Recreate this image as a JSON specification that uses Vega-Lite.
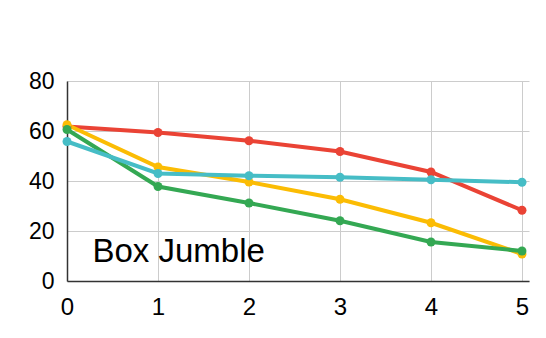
{
  "$schema": "https://vega.github.io/schema/vega-lite/v6.json",
  "autosize": "none",
  "width": 462,
  "height": 200,
  "padding": {"left": 67, "top": 81, "right": 17, "bottom": 57},
  "background": "white",
  "config": {
    "font": "Liberation Sans",
    "view": {"stroke": null}
  },
  "data": {
    "values": [
      {"s": "A", "x": 0, "y": 61.8},
      {"s": "A", "x": 1, "y": 59.4},
      {"s": "A", "x": 2, "y": 56.1},
      {"s": "A", "x": 3, "y": 51.8},
      {"s": "A", "x": 4, "y": 43.6},
      {"s": "A", "x": 5, "y": 28.3},
      {"s": "B", "x": 0, "y": 62.5},
      {"s": "B", "x": 1, "y": 45.6},
      {"s": "B", "x": 2, "y": 39.6},
      {"s": "B", "x": 3, "y": 32.7},
      {"s": "B", "x": 4, "y": 23.3},
      {"s": "B", "x": 5, "y": 10.8},
      {"s": "C", "x": 0, "y": 60.6},
      {"s": "C", "x": 1, "y": 37.8},
      {"s": "C", "x": 2, "y": 31.2},
      {"s": "C", "x": 3, "y": 24.1},
      {"s": "C", "x": 4, "y": 15.6},
      {"s": "C", "x": 5, "y": 12.0},
      {"s": "D", "x": 0, "y": 55.8},
      {"s": "D", "x": 1, "y": 43.0},
      {"s": "D", "x": 2, "y": 42.1},
      {"s": "D", "x": 3, "y": 41.5},
      {"s": "D", "x": 4, "y": 40.5},
      {"s": "D", "x": 5, "y": 39.5}
    ]
  },
  "encoding": {
    "x": {
      "field": "x", "type": "quantitative",
      "scale": {"domain": [0, 5.077], "nice": false, "zero": false},
      "axis": {
        "title": null, "values": [0, 1, 2, 3, 4, 5], "format": "d",
        "labelFontSize": 24, "labelColor": "#000000", "labelPadding": 14,
        "ticks": false, "domainColor": "#333333", "domainWidth": 1.5,
        "gridColor": "#cccccc", "grid": true, "labelFlush": false
      }
    },
    "y": {
      "field": "y", "type": "quantitative",
      "scale": {"domain": [0, 80], "nice": false},
      "axis": {
        "title": null, "values": [0, 20, 40, 60, 80],
        "labelFontSize": 23, "labelColor": "#000000", "labelPadding": 13,
        "ticks": false, "domainColor": "#333333", "domainWidth": 1.5,
        "gridColor": "#cccccc", "grid": true
      }
    },
    "color": {
      "field": "s", "type": "nominal", "legend": null,
      "scale": {"domain": ["A", "B", "C", "D"], "range": ["#EA4335", "#FBBC04", "#34A853", "#46BDC6"]}
    }
  },
  "layer": [
    {"mark": {"type": "line", "strokeWidth": 4}},
    {"mark": {"type": "point", "filled": true, "opacity": 1, "size": 80}},
    {
      "transform": [{"filter": "datum.s == 'A' && datum.x == 0"}],
      "mark": {"type": "text", "text": "Box Jumble", "fontSize": 33, "align": "left", "baseline": "alphabetic", "color": "#000000", "font": "Liberation Sans"},
      "encoding": {
        "x": {"datum": 0.28, "type": "quantitative"},
        "y": {"datum": 7.6, "type": "quantitative"},
        "color": {"value": "#000000"}
      }
    }
  ]
}
